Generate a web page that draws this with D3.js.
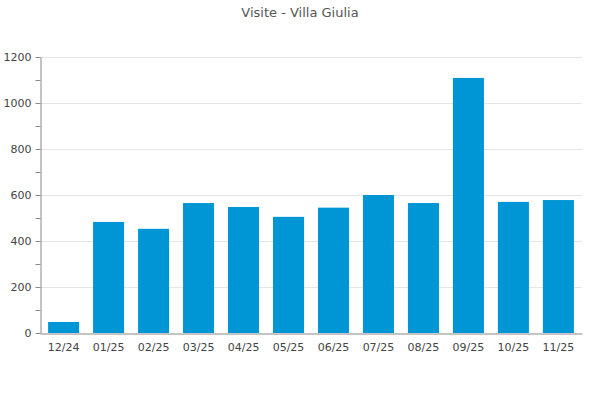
<!DOCTYPE html>
<html><head><meta charset="utf-8">
<script src="https://cdn.jsdelivr.net/npm/d3@7"></script>
<style>body{margin:0;background:#fff;} text{font-family:"DejaVu Sans",sans-serif;}</style>
</head><body>
<svg id="c" width="600" height="400"></svg>
<script>
const categories = ["12/24","01/25","02/25","03/25","04/25","05/25","06/25","07/25","08/25","09/25","10/25","11/25"];
const visits = [48,483,453,565,548,505,545,600,565,1109,570,578];
const yTicks = [0,200,400,600,800,1000,1200];
const title = "Visite - Villa Giulia";

(function () {
const svg = d3.select("#c");
const mLeft = 40, mRight = 582, mTop = 57, mBottom = 333;
const x = d3.scaleBand().domain(categories).range([mLeft, mRight]).paddingInner(0.31).paddingOuter(0.18);
const y = d3.scaleLinear().domain([0, 1200]).range([mBottom, mTop]);

svg.append("text").attr("x", 300).attr("y", 17).attr("text-anchor", "middle")
  .attr("font-size", 13).attr("fill", "#555").text(title);

svg.append("g").selectAll("line").data(yTicks.slice(1)).join("line")
  .attr("x1", mLeft).attr("x2", mRight)
  .attr("y1", d => Math.round(y(d)) + 0.5).attr("y2", d => Math.round(y(d)) + 0.5)
  .attr("stroke", "#e6e6e6");

svg.append("g").selectAll("rect").data(visits).join("rect")
  .attr("x", (d, i) => x(categories[i]))
  .attr("width", x.bandwidth())
  .attr("y", d => y(d))
  .attr("height", d => mBottom - y(d))
  .attr("fill", "#0095d5");

const yAxis = svg.append("g").attr("transform", `translate(${mLeft + 0.5},0)`)
  .call(d3.axisLeft(y).tickValues(d3.range(0, 1201, 100)).tickSize(5).tickSizeOuter(0)
    .tickFormat(d => yTicks.includes(d) ? d : ""));
yAxis.selectAll("path,line").attr("stroke", "#888");
yAxis.selectAll("text").attr("font-size", 11).attr("fill", "#444").attr("font-family", "DejaVu Sans, sans-serif").attr("x", -9);

const xAxis = svg.append("g").attr("transform", `translate(0,${mBottom + 0.5})`)
  .call(d3.axisBottom(x).tickSize(0).tickSizeOuter(0).tickPadding(10));
xAxis.select("path").attr("stroke", "#888");
xAxis.selectAll("text").attr("font-size", 11).attr("fill", "#444").attr("font-family", "DejaVu Sans, sans-serif");
})();
</script>
</body></html>
